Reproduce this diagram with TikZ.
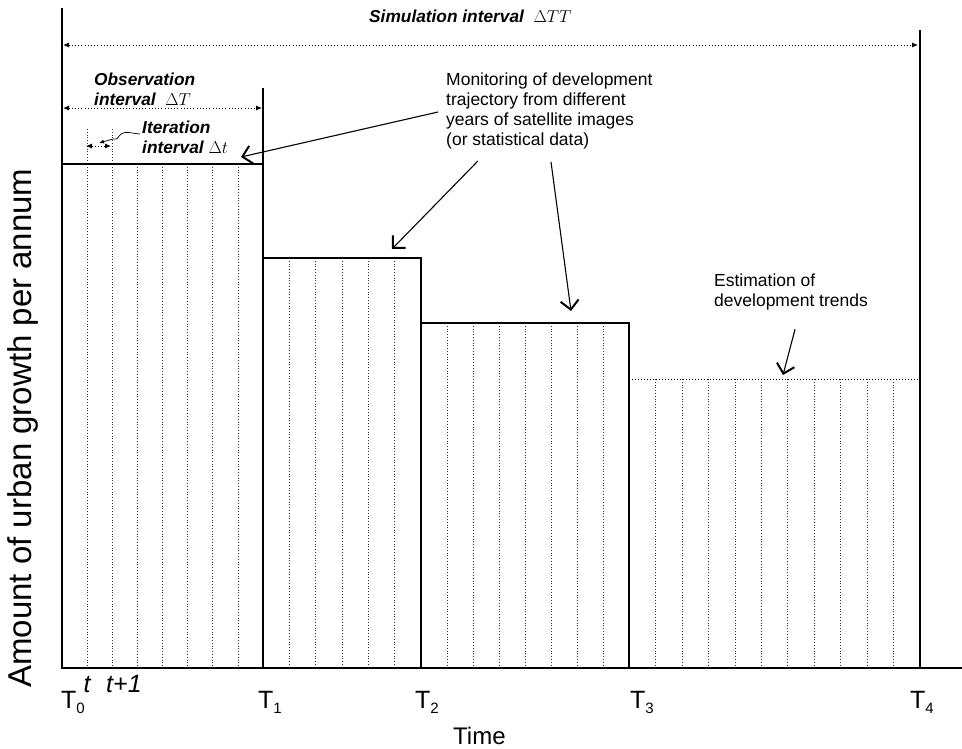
\documentclass[tikz,border=0pt]{standalone}
\usepackage{fontspec}
\setmainfont{Liberation Sans}
\usepackage{tikz}
\usetikzlibrary{arrows.meta, positioning, calc}

\newcommand{\Tsub}[1]{\raisebox{-5pt}{\fontsize{15}{15}\selectfont #1}}

\begin{document}
\begin{tikzpicture}[
    x=1pt, y=-1pt,
    axis/.style={line width=1.4pt},
    bar/.style={line width=1.2pt},
    tick/.style={line width=0.6pt, black!80, dash pattern=on 0.8pt off 2pt},
    span/.style={line width=0.9pt, dash pattern=on 1pt off 2.2pt, {Latex[length=6pt,width=5pt]}-{Latex[length=6pt,width=5pt]}},
    pointer/.style={line width=1.1pt, -{Straight Barb[length=9pt,width=18pt,line width=2pt]}},
    note/.style={font=\fontsize{17.5}{19.7}\selectfont, align=left, inner sep=0pt},
    tag/.style={font=\bfseries\itshape\fontsize{17.3}{20}\selectfont, align=left, inner sep=0pt},
    tlab/.style={font=\fontsize{25}{25}\selectfont, anchor=base west, inner sep=0pt}
]
\useasboundingbox[fill=white] (0,0) rectangle (962,748);

% Iteration steps
\foreach \xa/\xb/\top/\n in {62/263/164/8, 263/421/258/6, 421/629/323/8, 629/920/379/11}{
    \pgfmathtruncatemacro{\m}{\n-1}
    \foreach \k in {1,...,\m}
        \draw[tick] ({\xa+(\xb-\xa)*\k/\n},\top) -- ({\xa+(\xb-\xa)*\k/\n},668);
}
\draw[tick] (87.1,129) -- (87.1,164);
\draw[tick] (112.2,129) -- (112.2,164);

% Bars
\draw[bar] (62,164) -- (263,164);
\draw[bar] (263,258) -- (421,258) -- (421,668);
\draw[bar] (421,323) -- (629,323) -- (629,668);
\draw[line width=1pt, dash pattern=on 1pt off 2pt] (629,379) -- (920,379);

% Axes and interval limits
\draw[axis] (62,8) -- (62,668) -- (962,668);
\draw[axis] (263,88) -- (263,668);
\draw[axis] (920,30) -- (920,668);

% Intervals
\draw[span] (63,45) -- (918,45);
\draw[span] (63,108) -- (262,108);
\draw[span] (86,146) -- (111,146);

% Labels
\node[tag, anchor=west] (sim) at (369,16) {Simulation interval\ \ $\Delta TT$};
\node[tag, anchor=west] (obs) at (94,89) {Observation\\interval\ \ $\Delta T$};
\node[tag, anchor=west] (iter) at (142,137) {Iteration\\interval $\Delta t$};
\node[note, anchor=west] (mon) at (446,111) {Monitoring of development\\trajectory from different\\years of satellite images\\(or statistical data)};
\node[note, anchor=west] (est) at (714,292) {Estimation of\\development trends};

\node[rotate=90, font=\fontsize{33}{33}\selectfont] (ylab) at (23,428) {Amount of urban growth per annum};
\node[tlab, font=\fontsize{24}{24}\selectfont] (time) at (453,744) {Time};
\node[tlab] (t0) at (61,708) {T\Tsub{0}};
\node[tlab] (t1) at (258,708) {T\Tsub{1}};
\node[tlab] (t2) at (415,708) {T\Tsub{2}};
\node[tlab] (t3) at (630,708) {T\Tsub{3}};
\node[tlab] (t4) at (910,708) {T\Tsub{4}};
\node[tlab, font=\itshape\fontsize{25}{25}\selectfont, anchor=base] (tt) at (87,692) {t};
\node[tlab, font=\itshape\fontsize{25}{25}\selectfont] (tt1) at (106,692) {t+1};

% Pointers
\coordinate (top1) at (241,157);
\coordinate (top2) at (392,249);
\coordinate (top3) at (571,311);
\coordinate (top4) at (783,375);
\draw[pointer] ([xshift=-8pt,yshift=-1pt]mon.west) -- (top1);
\draw[pointer] ([xshift=32pt,yshift=-12pt]mon.south west) -- (top2);
\draw[pointer] ([xshift=105pt,yshift=-13pt]mon.south west) -- (top3);
\draw[pointer] ([xshift=4pt,yshift=-19pt]est.south) -- (top4);
\draw[line width=0.7pt, -{Latex[length=5pt,width=4pt]}] ([xshift=-2pt,yshift=3pt]iter.west)
    .. controls (130,133) and (126,131) .. (121,134)
    .. controls (117,137) and (119,140) .. (113,139) -- (99,143);

\end{tikzpicture}
\end{document}
